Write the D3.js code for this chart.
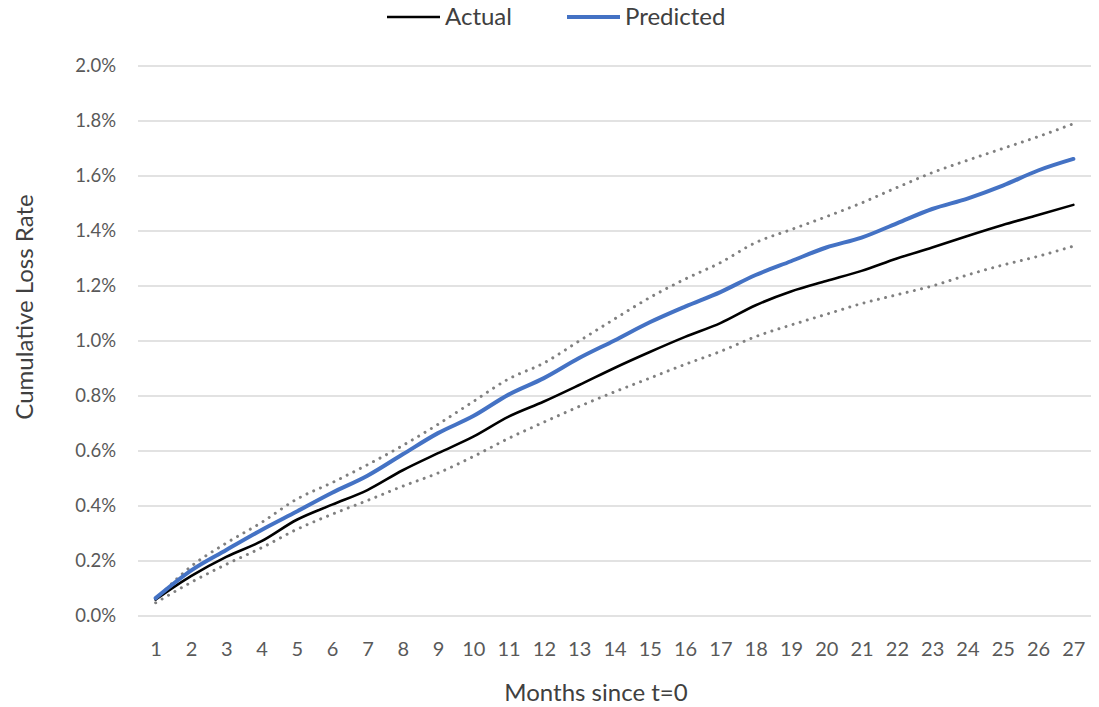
<!DOCTYPE html>
<html>
<head>
<meta charset="utf-8">
<script src="https://cdn.jsdelivr.net/npm/d3@7"></script>
<style>
  html, body { margin: 0; padding: 0; background: #fff; }
  svg { display: block; font-family: Lato, "Open Sans", sans-serif; }
</style>
</head>
<body>
<svg id="chart" width="1099" height="707"></svg>
<script>
// Months since origination
const months = d3.range(1, 28);
// Cumulative loss rates (fractions)
const actual = [0.00060, 0.00145, 0.00215, 0.00272, 0.00350, 0.00405, 0.00458, 0.00530, 0.00592, 0.00652,
                0.00725, 0.00780, 0.00840, 0.00902, 0.00960, 0.01015, 0.01065, 0.01130, 0.01180, 0.01218,
                0.01255, 0.01300, 0.01340, 0.01382, 0.01422, 0.01458, 0.01495];
const predicted = [0.00065, 0.00165, 0.00240, 0.00313, 0.00380, 0.00448, 0.00510, 0.00588, 0.00665, 0.00727,
                   0.00805, 0.00865, 0.00938, 0.01002, 0.01068, 0.01125, 0.01178, 0.01240, 0.01290, 0.01340,
                   0.01376, 0.01428, 0.01480, 0.01518, 0.01565, 0.01620, 0.01662];
const upperBound = [0.00060, 0.00180, 0.00265, 0.00340, 0.00425, 0.00485, 0.00550, 0.00620, 0.00697, 0.00780,
                    0.00862, 0.00920, 0.01000, 0.01080, 0.01158, 0.01225, 0.01285, 0.01358, 0.01405, 0.01452,
                    0.01502, 0.01558, 0.01612, 0.01657, 0.01700, 0.01743, 0.01790];
const lowerBound = [0.00048, 0.00122, 0.00188, 0.00248, 0.00315, 0.00370, 0.00420, 0.00472, 0.00520, 0.00580,
                    0.00646, 0.00705, 0.00762, 0.00815, 0.00865, 0.00915, 0.00962, 0.01016, 0.01058, 0.01097,
                    0.01136, 0.01168, 0.01200, 0.01240, 0.01276, 0.01308, 0.01345];
const yTicks = [0, 0.002, 0.004, 0.006, 0.008, 0.010, 0.012, 0.014, 0.016, 0.018, 0.020];

const svg = d3.select("#chart");
const plot = { left: 138, right: 1091, top: 66, bottom: 616 };

const x = d3.scalePoint().domain(months).range([plot.left, plot.right]).padding(0.5);
const y = d3.scaleLinear().domain([0, 0.02]).range([plot.bottom, plot.top]);

// Horizontal gridlines
svg.append("g")
  .selectAll("line")
  .data(yTicks)
  .join("line")
  .attr("x1", plot.left).attr("x2", plot.right)
  .attr("y1", d => y(d)).attr("y2", d => y(d))
  .attr("stroke", "#d9d9d9").attr("stroke-width", 1.5);

// Y axis labels
const yAxis = svg.append("g")
  .attr("transform", `translate(${plot.left},0)`)
  .call(d3.axisLeft(y).tickValues(yTicks).tickFormat(d3.format(".1%")).tickSize(0).tickPadding(22));
yAxis.select(".domain").remove();
yAxis.selectAll("text").attr("font-size", 18.5).attr("fill", "#595959").attr("font-family", "Lato, sans-serif");

// X axis labels
const xAxis = svg.append("g")
  .attr("transform", `translate(0,${plot.bottom})`)
  .call(d3.axisBottom(x).tickSize(0).tickPadding(26));
xAxis.select(".domain").remove();
xAxis.selectAll("text").attr("font-size", 20).attr("fill", "#595959").attr("font-family", "Lato, sans-serif");

const line = d3.line()
  .x((d, i) => x(months[i]))
  .y(d => y(d))
  .curve(d3.curveMonotoneX);

// Confidence bounds (dotted)
[upperBound, lowerBound].forEach(s => {
  svg.append("path")
    .datum(s)
    .attr("d", line)
    .attr("fill", "none")
    .attr("stroke", "#808080")
    .attr("stroke-width", 3)
    .attr("stroke-linecap", "round")
    .attr("stroke-dasharray", "0.01 7.4");
});

// Actual
svg.append("path")
  .datum(actual)
  .attr("d", line)
  .attr("fill", "none")
  .attr("stroke", "#000")
  .attr("stroke-width", 2.6)
  .attr("stroke-linecap", "round");

// Predicted
svg.append("path")
  .datum(predicted)
  .attr("d", line)
  .attr("fill", "none")
  .attr("stroke", "#4472c4")
  .attr("stroke-width", 4)
  .attr("stroke-linecap", "round");

// Axis titles
svg.append("text")
  .attr("x", 596).attr("y", 693).attr("dy", "0.35em")
  .attr("text-anchor", "middle")
  .attr("font-size", 24).attr("fill", "#404040")
  .text("Months since t=0");

svg.append("text")
  .attr("transform", "translate(25,307) rotate(-90)")
  .attr("dy", "0.35em")
  .attr("text-anchor", "middle")
  .attr("font-size", 24).attr("fill", "#404040")
  .text("Cumulative Loss Rate");

// Legend
const legendItems = [
  { label: "Actual", color: "#000", width: 2.6, x: 387 },
  { label: "Predicted", color: "#4472c4", width: 4, x: 567 }
];
const lg = svg.append("g").selectAll("g").data(legendItems).join("g")
  .attr("transform", d => `translate(${d.x},17)`);
lg.append("line")
  .attr("x1", 0).attr("x2", 53).attr("y1", 0).attr("y2", 0)
  .attr("stroke", d => d.color).attr("stroke-width", d => d.width);
lg.append("text")
  .attr("x", 58).attr("y", 0).attr("dy", "0.35em")
  .attr("font-size", 24).attr("fill", "#404040")
  .text(d => d.label);
</script>
</body>
</html>
